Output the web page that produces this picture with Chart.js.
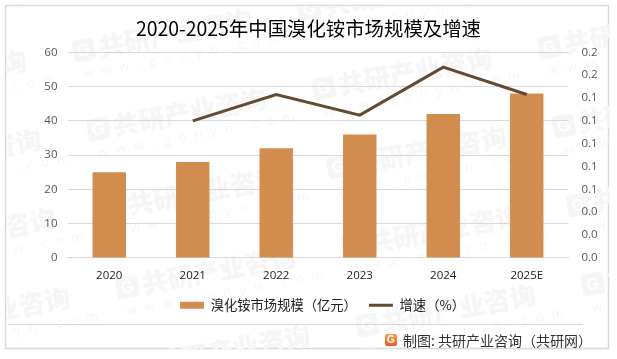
<!DOCTYPE html>
<html><head><meta charset="utf-8">
<style>html,body{margin:0;padding:0;background:#fff}#c{display:block}</style>
<script src="https://cdn.jsdelivr.net/npm/chart.js@4"></script>
</head><body><div style="width:617px;height:359px"><canvas id="c" width="617" height="359"></canvas></div>
<script>
const categories = ['2020','2021','2022','2023','2024','2025E'];
const marketSize = [25,28,32,36,42,48];
const growth = [null,0.12,0.143,0.125,0.167,0.143];
const titleText = '2020-2025年中国溴化铵市场规模及增速';
const barLabel = '溴化铵市场规模（亿元）';
const lineLabel = '增速（%）';
const footerText = '制图: 共研产业咨询（共研网）';
const cjk = '"Noto Sans CJK SC","Noto Sans",sans-serif';
const num = '"Open Sans","Noto Sans",sans-serif';

const decor = {
  id:'decor',
  afterLayout(chart){ chart.legend.left += 14; chart.legend.right += 14; },
  beforeDraw(chart){
    const c = chart.ctx; c.save();
    c.fillStyle='#fff'; c.fillRect(0,0,617,359);
    c.strokeStyle='#d9d9d9'; c.lineWidth=1.5; c.strokeRect(5.5,5.5,298.5*2+6,343);
    c.beginPath(); c.rect(6,6,603,343); c.clip();
    for(let col=-1;col<3;col++) for(let row=-1;row<5;row++){
      const x=73+col*240+row*14.5, y=52+col*38+row*79;
      c.save(); c.translate(x,y); c.rotate(-10.5*Math.PI/180);
      c.fillStyle='#f6f6f6';
      c.beginPath(); c.roundRect(0,-11,22,22,4); c.fill();
      c.fillStyle='#fff'; c.font='bold 17px "Liberation Sans",sans-serif'; c.textAlign='center'; c.textBaseline='middle';
      c.fillText('G',11,1);
      c.fillStyle='#f6f6f6'; c.textAlign='left';
      c.font='900 26px '+cjk; c.fillText('共研产业咨询',26,0);
      c.font='13px '+num; c.letterSpacing='8.3px';
      c.fillText('www.gonyn.com',6,24);
      c.restore();
    }
    c.restore();
  },
  afterDraw(chart){
    const c = chart.ctx; c.save();
    c.strokeStyle='#d9d9d9'; c.lineWidth=1;
    c.beginPath(); c.moveTo(8,324.5); c.lineTo(583,324.5); c.stroke();
    const g=c.createLinearGradient(0,334,0,346); g.addColorStop(0,'#f7a23b'); g.addColorStop(1,'#ea5b23');
    c.fillStyle=g; c.beginPath(); c.roundRect(385,334,12,12,2); c.fill();
    c.fillStyle='#fff'; c.font='bold 10px "Liberation Sans",sans-serif'; c.textAlign='center'; c.textBaseline='middle';
    c.fillText('G',391,340.5);
    c.fillStyle='#333'; c.font='14px '+cjk; c.textAlign='left';
    c.fillText(footerText,403,341);
    c.restore();
  }
};

new Chart(document.getElementById('c'),{
  data:{labels:categories,datasets:[
    {type:'line',label:lineLabel,data:growth,yAxisID:'y1',borderColor:'#644a2f',backgroundColor:'#644a2f',borderWidth:3,pointRadius:0,tension:0,spanGaps:false,order:1,pointStyle:'line'},
    {type:'bar',label:barLabel,data:marketSize,yAxisID:'y',backgroundColor:'#d18c4e',barPercentage:0.4,categoryPercentage:1,order:2,pointStyle:'rect'}
  ]},
  options:{
    responsive:false,animation:false,
    layout:{padding:{left:0,right:0,top:0,bottom:37}},
    plugins:{
      title:{display:true,text:titleText,color:'#000',font:{family:cjk,size:19.4,weight:'normal'},padding:{top:17,bottom:12}},
      legend:{display:true,position:'bottom',
        labels:{usePointStyle:true,boxHeight:7,pointStyleWidth:24,padding:12,color:'#222',font:{family:cjk,size:13.3},
          sort:(a,b)=>b.datasetIndex-a.datasetIndex,
          generateLabels(chart){
            return Chart.defaults.plugins.legend.labels.generateLabels(chart).map(it=>{
              it.lineWidth = it.datasetIndex===0?3:0;
              return it;
            });
          }}
      },
      tooltip:{enabled:false}
    },
    scales:{
      x:{grid:{display:false},border:{color:'#d9d9d9'},afterFit:s=>{s.height+=1},ticks:{color:'#222',font:{family:num,size:11.5},padding:3,maxRotation:0}},
      y:{position:'left',min:0,max:60,afterFit:s=>{s.width=67.5},grid:{color:'#d9d9d9',drawTicks:false},border:{display:false},
         ticks:{stepSize:10,color:'#595959',padding:10,font:{family:num,size:11.5}}},
      y1:{position:'right',min:0,max:0.18,afterFit:s=>{s.width=48.5},grid:{display:false},border:{display:false},
         ticks:{stepSize:0.02,color:'#595959',padding:5,font:{family:num,size:11.5},callback:v=>Number(v).toFixed(1)}}
    }
  },
  plugins:[decor]
});
</script></body></html>
